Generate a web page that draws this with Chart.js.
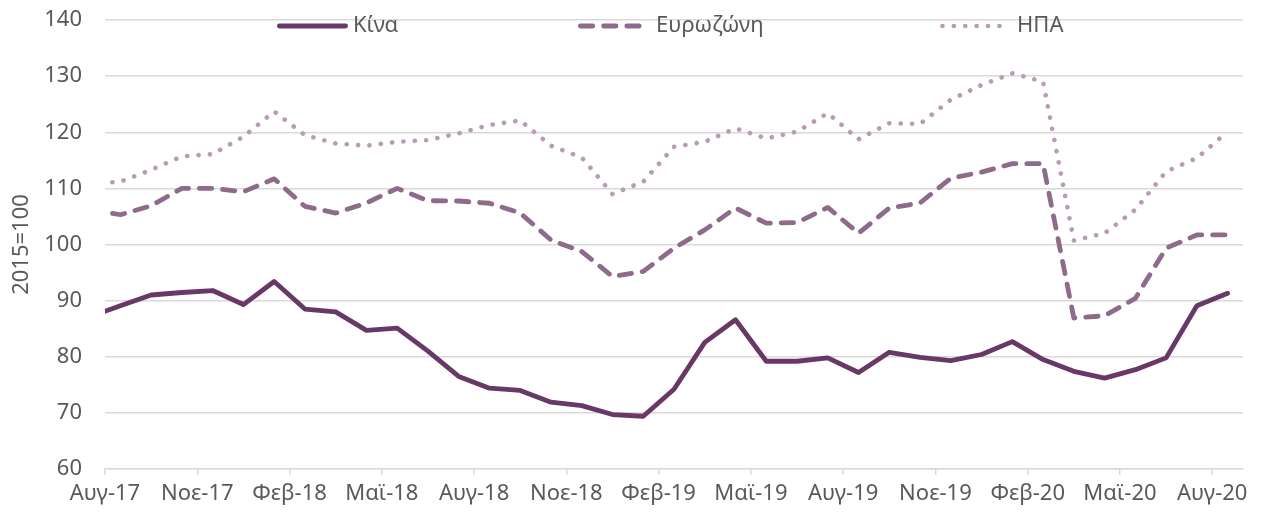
<!DOCTYPE html>
<html>
<head>
<meta charset="utf-8">
<script src="https://cdn.jsdelivr.net/npm/chart.js@4/dist/chart.umd.min.js"></script>
<style>
html,body{margin:0;padding:0;background:#ffffff;}
#wrap{width:1267px;height:512px;position:relative;}
</style>
</head>
<body>
<div id="wrap"><canvas id="c"></canvas></div>
<script>
// Monthly observations (mid-month), Ιουλ-17 ... Αυγ-20
const months = ['Ιουλ-17','Αυγ-17','Σεπ-17','Οκτ-17','Νοε-17','Δεκ-17',
  'Ιαν-18','Φεβ-18','Μαρ-18','Απρ-18','Μαϊ-18','Ιουν-18','Ιουλ-18','Αυγ-18','Σεπ-18','Οκτ-18','Νοε-18','Δεκ-18',
  'Ιαν-19','Φεβ-19','Μαρ-19','Απρ-19','Μαϊ-19','Ιουν-19','Ιουλ-19','Αυγ-19','Σεπ-19','Οκτ-19','Νοε-19','Δεκ-19',
  'Ιαν-20','Φεβ-20','Μαρ-20','Απρ-20','Μαϊ-20','Ιουν-20','Ιουλ-20','Αυγ-20'];

const china = [87.1, 89.1, 91.0, 91.45, 91.8, 89.3,
  93.4, 88.5, 88.0, 84.7, 85.1, 81.0, 76.5, 74.4, 74.0, 71.9, 71.3, 69.7,
  69.4, 74.2, 82.55, 86.6, 79.2, 79.2, 79.8, 77.2, 80.8, 79.9, 79.3, 80.4,
  82.7, 79.5, 77.4, 76.2, 77.7, 79.8, 89.1, 91.3];

const eurozone = [106.2, 105.3, 106.9, 110.0, 110.0, 109.4,
  111.7, 106.8, 105.6, 107.4, 110.0, 107.8, 107.75, 107.35, 105.6, 100.8, 98.75, 94.3,
  95.2, 99.35, 102.6, 106.5, 103.8, 103.9, 106.6, 102.0, 106.5, 107.4, 111.8, 112.9,
  114.4, 114.4, 86.9, 87.3, 90.4, 99.35, 101.7, 101.7];

const usa = [110.8, 111.2, 113.3, 115.7, 116.1, 119.2,
  123.7, 119.5, 118.0, 117.6, 118.3, 118.6, 119.8, 121.3, 122.1, 117.6, 115.5, 109.0,
  111.2, 117.4, 118.3, 120.7, 118.9, 120.1, 123.4, 118.75, 121.6, 121.5, 125.8, 128.4,
  130.5, 129.0, 100.7, 102.0, 106.2, 113.0, 115.4, 120.1];

const seriesNames = ['Κίνα', 'Ευρωζώνη', 'ΗΠΑ'];

// x-axis tick labels (every 3 months, starting Αυγ-17)
const tickLabels = ['Αυγ-17','Νοε-17','Φεβ-18','Μαϊ-18','Αυγ-18','Νοε-18','Φεβ-19',
  'Μαϊ-19','Αυγ-19','Νοε-19','Φεβ-20','Μαϊ-20','Αυγ-20'];

const yTitle = '2015=100';

const FONT = '"Noto Sans", "Open Sans", "DejaVu Sans", sans-serif';
const FS = 22;
const TEXT = '#595959';
const GRID = '#d9d9d9';

// month index relative to start of Αυγ-17; points sit mid-month
const toPoints = arr => arr.map((v, i) => ({x: i - 0.5, y: v}));

const legendPlugin = {
  id: 'customLegend',
  afterDraw(chart) {
    const ctx = chart.ctx;
    const starts = [277, 578, 940];
    const textX = [353, 656, 1017];
    const y = 26;
    chart.data.datasets.forEach((ds, i) => {
      ctx.save();
      ctx.strokeStyle = ds.borderColor;
      ctx.lineWidth = ds.borderWidth;
      ctx.lineCap = 'round';
      ctx.setLineDash(ds.borderDash || []);
      ctx.beginPath();
      ctx.moveTo(starts[i] + 2.4, y);
      ctx.lineTo(starts[i] + 68.6, y);
      ctx.stroke();
      ctx.setLineDash([]);
      ctx.fillStyle = TEXT;
      ctx.font = FS + 'px ' + FONT;
      ctx.textBaseline = 'middle';
      ctx.textAlign = 'left';
      ctx.fillText(ds.label, textX[i], y);
      ctx.restore();
    });
  }
};

new Chart(document.getElementById('c'), {
  type: 'line',
  data: {
    datasets: [
      {label: seriesNames[0], data: toPoints(china), borderColor: '#683866', borderWidth: 4.8,
       borderCapStyle: 'round', borderJoinStyle: 'round', pointRadius: 0, tension: 0, fill: false},
      {label: seriesNames[1], data: toPoints(eurozone), borderColor: '#8e6b8a', borderWidth: 4.8,
       borderDash: [12.4, 10.8], borderCapStyle: 'round', borderJoinStyle: 'round', pointRadius: 0, tension: 0, fill: false},
      {label: seriesNames[2], data: toPoints(usa), borderColor: '#b99bb5', borderWidth: 4.6,
       borderDash: [0.1, 11.3], borderCapStyle: 'round', borderJoinStyle: 'round', pointRadius: 0, tension: 0, fill: false}
    ]
  },
  options: {
    responsive: true,
    maintainAspectRatio: false,
    animation: false,
    layout: {padding: {top: 20, right: 24, left: 0, bottom: 0}},
    plugins: {legend: {display: false}, tooltip: {enabled: false}},
    scales: {
      x: {
        type: 'linear',
        min: 0,
        max: 37,
        afterBuildTicks: scale => { scale.ticks = tickLabels.map((_, k) => ({value: 3 * k})); },
        afterFit: scale => { scale.height = 43; scale.paddingLeft = 0; scale.paddingRight = 0; },
        ticks: {
          autoSkip: false,
          maxRotation: 0,
          color: TEXT,
          font: {family: FONT, size: FS},
          padding: 6,
          callback: value => tickLabels[Math.round(value / 3)]
        },
        grid: {drawOnChartArea: false, drawTicks: true, tickLength: 6, color: GRID, lineWidth: 1.5},
        border: {display: true, color: GRID, width: 1.5}
      },
      y: {
        min: 60,
        max: 140,
        afterFit: scale => { scale.width = 105; scale.paddingTop = 0; scale.paddingBottom = 0; },
        ticks: {stepSize: 10, color: TEXT, font: {family: FONT, size: FS}, padding: 23},
        grid: {color: GRID, lineWidth: 1.5, drawTicks: false},
        border: {display: false},
        title: {display: true, text: yTitle, color: TEXT, font: {family: FONT, size: FS}, padding: {top: 9, bottom: 0}}
      }
    }
  },
  plugins: [legendPlugin]
});
</script>
</body>
</html>
